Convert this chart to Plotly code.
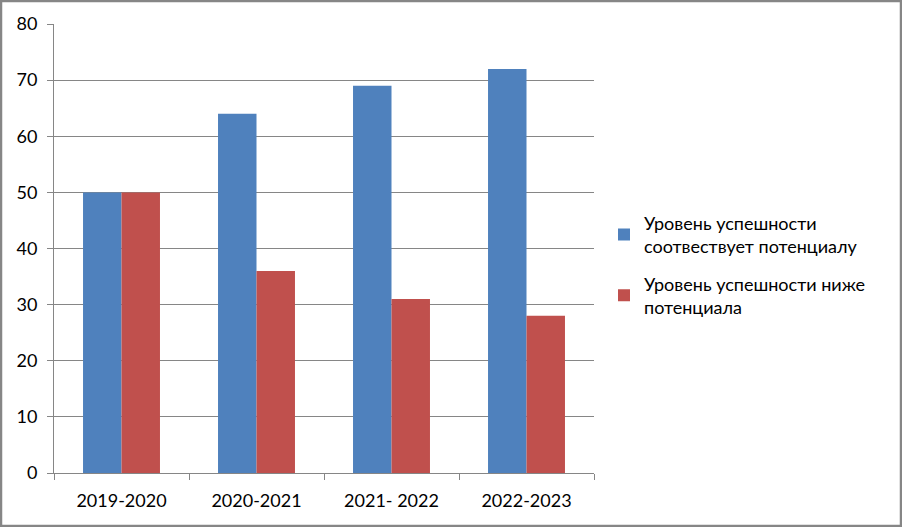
import plotly.graph_objects as go

categories = ["2019-2020", "2020-2021", "2021- 2022", "2022-2023"]
series1_name = "Уровень успешности<br>соотвествует потенциалу"
series1 = [50, 64, 69, 72]
series2_name = "Уровень успешности ниже<br>потенциала"
series2 = [50, 36, 31, 28]
y_ticks = [0, 10, 20, 30, 40, 50, 60, 70, 80]

FONT = "Lato"
GRAY = "#868686"

fig = go.Figure()
fig.add_trace(go.Bar(x=categories, y=series1, name=series1_name, legendgroup="g1",
                     marker=dict(color="#4F81BD", line=dict(width=0))))
fig.add_trace(go.Bar(x=categories, y=series2, name=series2_name, legendgroup="g2",
                     marker=dict(color="#C0504D", line=dict(width=0))))

L, R, T, B = 54, 308, 24, 54
PW, PH = 902 - L - R, 527 - T - B

fig.update_layout(
    width=902, height=527,
    margin=dict(l=L, r=R, t=T, b=B, pad=0),
    paper_bgcolor="white", plot_bgcolor="white",
    barmode="group", bargap=0.43, bargroupgap=0,
    font=dict(family=FONT, size=18, color="black"),
    showlegend=True,
    legend=dict(x=(604 - L) / PW, y=(473 - 265) / PH, xanchor="left", yanchor="middle",
                font=dict(family=FONT, size=18), tracegroupgap=11,
                bgcolor="rgba(0,0,0,0)"),
    xaxis=dict(showgrid=False, showline=True, linecolor=GRAY, linewidth=1,
               ticks="outside", tickson="boundaries", ticklen=6, tickcolor=GRAY,
               tickfont=dict(size=18), zeroline=False, ticklabelstandoff=11),
    yaxis=dict(range=[0, 80], tickvals=y_ticks, showgrid=True, gridcolor=GRAY, gridwidth=1,
               showline=True, linecolor=GRAY, linewidth=1, ticks="outside", ticklen=6,
               tickcolor=GRAY, tickfont=dict(size=18), zeroline=False, ticklabelstandoff=6),
)

fig.add_shape(type="rect", xref="paper", yref="paper",
              x0=(1 - L) / PW, x1=(901 - L) / PW,
              y0=(473 - 526) / PH, y1=(473 - 1) / PH,
              line=dict(color=GRAY, width=2.5), fillcolor="rgba(0,0,0,0)", layer="below")

fig.write_html("out.html", config={"displayModeBar": False},
               post_script="document.body.style.margin='0';")
